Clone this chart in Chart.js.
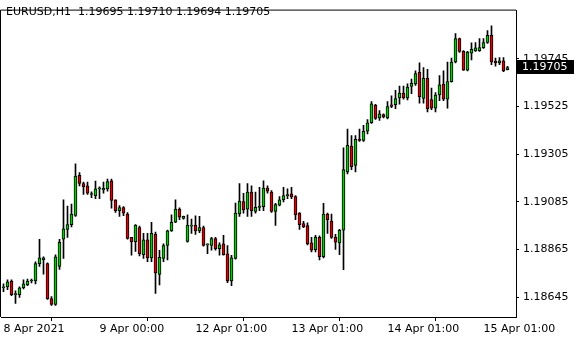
<!DOCTYPE html>
<html><head><meta charset="utf-8">
<script src="https://cdn.jsdelivr.net/npm/chart.js@4/dist/chart.umd.min.js"></script>
<style>html,body{margin:0;padding:0;background:#fff;overflow:hidden}canvas{display:block}</style>
</head><body>
<canvas id="c" width="580" height="340"></canvas>
<script>
const symbolTitle = 'EURUSD,H1';
const lastBarOHLC = ['1.19695', '1.19710', '1.19694', '1.19705'];
const currentPrice = 1.19705;

const opens = [1.18689,1.18693,1.18720,1.18657,1.18657,1.18689,1.18702,1.18720,1.18720,1.18800,
1.18818,1.18800,1.18639,1.18612,1.18787,1.18913,1.18958,1.18980,1.19023,1.19208,
1.19170,1.19159,1.19119,1.19114,1.19145,1.19140,1.19145,1.19182,1.19095,1.19045,
1.19059,1.19029,1.18921,1.18901,1.18966,1.18842,1.18910,1.18827,1.18935,1.18750,
1.18824,1.18884,1.18951,1.18991,1.19052,1.19009,1.18903,1.18973,1.18978,1.18951,
1.18966,1.18887,1.18884,1.18916,1.18869,1.18891,1.18846,1.18720,1.18824,1.19030,
1.19086,1.19051,1.19130,1.19041,1.19060,1.19063,1.19149,1.19130,1.19041,1.19070,
1.19095,1.19114,1.19122,1.19110,1.19033,1.18985,1.18976,1.18896,1.18865,1.18921,
1.18832,1.19029,1.18996,1.18921,1.18896,1.18954,1.19223,1.19342,1.19253,1.19373,
1.19368,1.19411,1.19450,1.19532,1.19472,1.19488,1.19472,1.19533,1.19533,1.19565,
1.19587,1.19565,1.19617,1.19629,1.19682,1.19562,1.19655,1.19557,1.19517,1.19578,
1.19628,1.19559,1.19640,1.19730,1.19838,1.19779,1.19692,1.19771,1.19781,1.19783,
1.19796,1.19820,1.19853,1.19735,1.19726,1.19736,1.19695];

const highs = [1.18707,1.18725,1.18725,1.18675,1.18693,1.18725,1.18729,1.18729,1.18809,1.18912,
1.18832,1.18804,1.18648,1.18841,1.18912,1.19095,1.19066,1.19075,1.19261,1.19220,
1.19176,1.19176,1.19131,1.19181,1.19155,1.19176,1.19190,1.19190,1.19095,1.19068,
1.19063,1.19036,1.18921,1.18980,1.18973,1.18940,1.18940,1.18991,1.18946,1.18862,
1.18891,1.18955,1.19025,1.19095,1.19058,1.19020,1.19025,1.19006,1.19021,1.19018,
1.18973,1.18891,1.18921,1.18921,1.18896,1.18931,1.18884,1.18839,1.19080,1.19170,
1.19125,1.19170,1.19159,1.19130,1.19152,1.19182,1.19159,1.19137,1.19078,1.19110,
1.19152,1.19145,1.19152,1.19114,1.19036,1.18995,1.18988,1.18921,1.18931,1.18928,
1.19078,1.19033,1.19029,1.18935,1.18958,1.19334,1.19421,1.19391,1.19391,1.19421,
1.19438,1.19465,1.19548,1.19535,1.19506,1.19491,1.19548,1.19574,1.19599,1.19619,
1.19619,1.19629,1.19651,1.19689,1.19726,1.19704,1.19696,1.19610,1.19589,1.19667,
1.19689,1.19730,1.19748,1.19861,1.19841,1.19783,1.19779,1.19819,1.19820,1.19838,
1.19838,1.19875,1.19897,1.19748,1.19751,1.19751,1.19710];

const lows = [1.18671,1.18680,1.18653,1.18617,1.18644,1.18684,1.18698,1.18711,1.18707,1.18787,
1.18752,1.18635,1.18608,1.18608,1.18773,1.18824,1.18921,1.18970,1.19018,1.19159,
1.19119,1.19119,1.19104,1.19100,1.19100,1.19125,1.19134,1.19056,1.19036,1.19018,
1.19021,1.18913,1.18839,1.18857,1.18836,1.18824,1.18809,1.18809,1.18663,1.18702,
1.18809,1.18817,1.18949,1.18989,1.19003,1.19005,1.18899,1.18939,1.18935,1.18943,
1.18881,1.18846,1.18862,1.18862,1.18839,1.18839,1.18712,1.18698,1.18821,1.19018,
1.19033,1.19018,1.19018,1.19033,1.19045,1.19045,1.19125,1.19036,1.18976,1.19066,
1.19085,1.19100,1.19100,1.19003,1.18958,1.18966,1.18887,1.18854,1.18854,1.18817,
1.18827,1.18940,1.18916,1.18866,1.18842,1.18772,1.19214,1.19234,1.19223,1.19364,
1.19364,1.19398,1.19447,1.19465,1.19461,1.19472,1.19468,1.19520,1.19515,1.19536,
1.19559,1.19555,1.19584,1.19622,1.19540,1.19540,1.19500,1.19510,1.19500,1.19552,
1.19552,1.19517,1.19637,1.19726,1.19774,1.19691,1.19689,1.19740,1.19779,1.19779,
1.19793,1.19816,1.19718,1.19711,1.19718,1.19686,1.19694];

const closes = [1.18693,1.18716,1.18657,1.18659,1.18689,1.18707,1.18720,1.18722,1.18800,1.18827,
1.18827,1.18639,1.18612,1.18832,1.18899,1.18961,1.18980,1.19029,1.19204,1.19170,
1.19155,1.19125,1.19121,1.19145,1.19146,1.19148,1.19179,1.19092,1.19045,1.19059,
1.19033,1.18916,1.18901,1.18978,1.18846,1.18910,1.18827,1.18940,1.18757,1.18829,
1.18884,1.18951,1.18991,1.19052,1.19015,1.19018,1.18978,1.18975,1.18951,1.18966,
1.18884,1.18888,1.18916,1.18869,1.18887,1.18842,1.18720,1.18827,1.19033,1.19089,
1.19048,1.19130,1.19045,1.19060,1.19063,1.19149,1.19134,1.19041,1.19073,1.19095,
1.19114,1.19116,1.19108,1.19025,1.18980,1.18970,1.18891,1.18862,1.18921,1.18832,
1.19029,1.19003,1.18921,1.18899,1.18954,1.19234,1.19346,1.19248,1.19373,1.19368,
1.19411,1.19450,1.19537,1.19470,1.19491,1.19477,1.19525,1.19525,1.19562,1.19587,
1.19565,1.19614,1.19632,1.19677,1.19570,1.19655,1.19515,1.19517,1.19578,1.19625,
1.19559,1.19640,1.19730,1.19838,1.19779,1.19692,1.19776,1.19789,1.19796,1.19797,
1.19820,1.19853,1.19730,1.19726,1.19736,1.19689,1.19705];

const timeTickIndex = [0, 24, 48, 72, 96, 120];
const timeTickLabels = ['8 Apr 2021', '9 Apr 00:00', '12 Apr 01:00', '13 Apr 01:00', '14 Apr 01:00', '15 Apr 01:00'];
const priceTicks = [1.18645, 1.18865, 1.19085, 1.19305, 1.19525, 1.19745];

const BULL = '#00cc00', BEAR = '#dd0000';
const FONT = {family: 'DejaVu Sans', size: 11};

const bodyData = opens.map((o, i) => ({x: i, y: [o, closes[i]]}));
const wickData = lows.map((l, i) => ({x: i, y: [l, highs[i]]}));
const bodyColors = opens.map((o, i) => closes[i] >= o ? BULL : BEAR);

const frame = {
  id: 'frame',
  beforeDraw(chart) {
    const c = chart.ctx;
    c.save(); c.fillStyle = '#fff'; c.fillRect(0, 0, chart.width, chart.height); c.restore();
  },
  afterDraw(chart) {
    const c = chart.ctx, a = chart.chartArea, ys = chart.scales.y;
    c.save();
    c.strokeStyle = '#000'; c.lineWidth = 1;
    c.beginPath();
    c.moveTo(a.left - 0.5, a.bottom); c.lineTo(a.left - 0.5, a.top - 0.5); c.lineTo(a.right, a.top - 0.5);
    c.stroke();
    // current price marker
    const py = Math.round(ys.getPixelForValue(currentPrice));
    c.fillStyle = '#000';
    c.fillRect(a.right + 1, py - 7, 57, 14);
    c.fillStyle = '#fff';
    c.font = '11px "DejaVu Sans"';
    c.textBaseline = 'middle'; c.textAlign = 'left';
    c.fillText(currentPrice.toFixed(5), a.right + 6, py);
    // title
    c.fillStyle = '#000';
    c.fillText(symbolTitle + '  ' + lastBarOHLC.join(' '), 6, 12);
    c.restore();
  }
};

new Chart(document.getElementById('c'), {
  type: 'bar',
  data: {
    datasets: [
      {data: bodyData, backgroundColor: bodyColors, borderColor: '#000', borderWidth: 1,
       borderSkipped: false, barThickness: 3, minBarLength: 1, order: 0},
      {data: wickData, backgroundColor: '#000', borderWidth: 0, barThickness: 1, order: 1}
    ]
  },
  options: {
    responsive: false, animation: false, events: [], devicePixelRatio: 1,
    layout: {padding: {left: 1, top: 1, right: 0, bottom: 0}},
    plugins: {legend: {display: false}, tooltip: {enabled: false}},
    datasets: {bar: {grouped: false}},
    scales: {
      x: {
        type: 'linear', position: 'bottom', min: -0.625, max: 128.125, offset: false,
        afterBuildTicks: s => { s.ticks = timeTickIndex.map(v => ({value: v})); },
        afterFit: s => { s.height = 23; },
        grid: {display: true, drawOnChartArea: false, drawTicks: true, tickLength: 4, color: '#000', tickColor: '#000'},
        border: {display: true, color: '#000'},
        ticks: {align: 'start', padding: 2, color: '#000', font: FONT, maxRotation: 0, autoSkip: false,
          callback: v => { const k = timeTickIndex.indexOf(v); return k >= 0 ? timeTickLabels[k] : ''; }}
      },
      y: {
        type: 'linear', position: 'right', min: 1.1855407, max: 1.1996727,
        afterBuildTicks: s => { s.ticks = priceTicks.map(v => ({value: v})); },
        afterFit: s => { s.width = 64; },
        grid: {display: true, drawOnChartArea: false, drawTicks: true, tickLength: 3, color: '#000', tickColor: '#000'},
        border: {display: true, color: '#000'},
        ticks: {padding: 4, color: '#000', font: FONT, autoSkip: false, callback: v => v.toFixed(5)}
      }
    }
  },
  plugins: [frame]
});
</script>
</body></html>
